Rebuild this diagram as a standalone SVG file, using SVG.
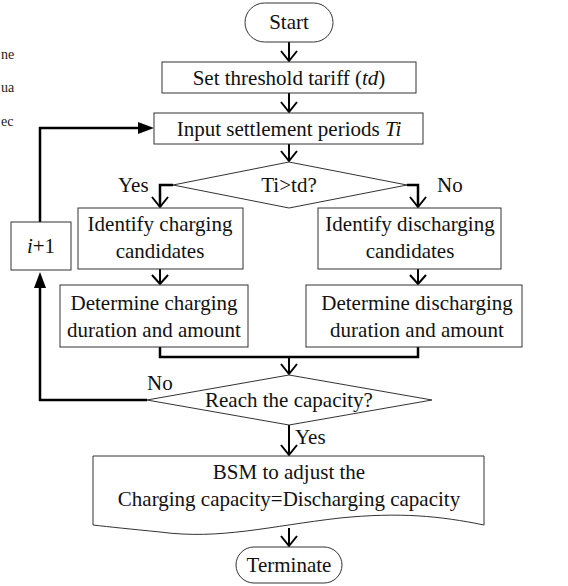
<svg xmlns="http://www.w3.org/2000/svg" width="568" height="586" viewBox="0 0 568 586" font-family="'Liberation Serif', 'Times New Roman', 'DejaVu Serif', serif">
<style>
.box{fill:#fff;stroke:#333;stroke-width:1}
text{font-family:'Liberation Serif','Times New Roman','DejaVu Serif',serif}
.t{font-size:21px;fill:#111;text-anchor:middle}
.l{font-size:21px;fill:#111}
.c{fill:none;stroke:#000;stroke-width:2.5}
.cd{fill:none;stroke:#000;stroke-width:2}
.side{font-size:14px;fill:#222}
</style>
<rect width="568" height="586" fill="#fff"/>
<g id="side-text">
<text class="side" x="1" y="59">ne</text>
<text class="side" x="1" y="92">ua</text>
<text class="side" x="1" y="126">ec</text>
</g>
<g id="connectors">
<path class="cd" d="M289,42 V61"/>
<path class="cd" d="M281,51 L289,61 L297,51"/>
<path class="cd" d="M289,93 V112"/>
<path class="cd" d="M281,102 L289,112 L297,102"/>
<path class="cd" d="M289,144 V161"/>
<path class="cd" d="M281,151 L289,161 L297,151"/>
<path class="c" d="M173,185 H160 V207"/>
<path class="cd" d="M152,197 L160,207 L168,197"/>
<path class="c" d="M407,185 H418 V207"/>
<path class="cd" d="M410,197 L418,207 L426,197"/>
<path class="cd" d="M160,269 V284"/>
<path class="cd" d="M152,275 L160,284 L168,275"/>
<path class="cd" d="M418,269 V284"/>
<path class="cd" d="M410,275 L418,284 L426,275"/>
<path class="c" d="M160,347 V357 H418 V347"/>
<path class="cd" d="M289,357 V374"/>
<path class="cd" d="M281,364 L289,374 L297,364"/>
<path class="c" d="M147,400 H40 V287"/>
<polygon points="40,272 34,288 46,288" fill="#000"/>
<path class="c" d="M40,222 V128 H140"/>
<polygon points="154,128 138,122 138,134" fill="#000"/>
<path class="cd" d="M289,425 V455"/>
<path class="cd" d="M281,445 L289,455 L297,445"/>
<path class="cd" d="M289,528 V546"/>
<path class="cd" d="M281,536 L289,546 L297,536"/>
</g>
<g id="start">
<rect class="box" x="245" y="3" width="88" height="39" rx="19.5"/>
<text class="t" x="289" y="29">Start</text>
</g>
<g id="set-threshold">
<rect class="box" x="162" y="62" width="254" height="31"/>
<text class="t" x="289" y="85">Set threshold tariff (<tspan font-style="italic">td</tspan>)</text>
</g>
<g id="input-periods">
<rect class="box" x="154" y="113" width="269" height="31"/>
<text class="t" x="289" y="136">Input settlement periods  <tspan font-style="italic">Ti</tspan></text>
</g>
<g id="decision-ti">
<polygon class="box" points="289,162 407,185 289,208 173,185"/>
<text class="t" x="289" y="192">Ti&gt;td?</text>
<text class="l" x="118" y="192">Yes</text>
<text class="l" x="437" y="192">No</text>
</g>
<g id="identify-charging">
<rect class="box" x="78" y="208" width="165" height="61"/>
<text class="t" x="160" y="231">Identify charging</text>
<text class="t" x="160" y="258">candidates</text>
</g>
<g id="identify-discharging">
<rect class="box" x="318" y="208" width="183" height="61"/>
<text class="t" x="410" y="231">Identify discharging</text>
<text class="t" x="410" y="258">candidates</text>
</g>
<g id="i-plus-1">
<rect class="box" x="11" y="222" width="60" height="48"/>
<text class="t" x="41" y="253"><tspan font-style="italic">i</tspan>+1</text>
</g>
<g id="determine-charging">
<rect class="box" x="60" y="285" width="188" height="62"/>
<text class="t" x="154" y="310">Determine charging</text>
<text class="t" x="154" y="337">duration and amount</text>
</g>
<g id="determine-discharging">
<rect class="box" x="306" y="285" width="216" height="62"/>
<text class="t" x="417" y="310">Determine discharging</text>
<text class="t" x="417" y="337">duration and amount</text>
</g>
<g id="decision-capacity">
<polygon class="box" points="289,375 432,400 289,425 147,400"/>
<text class="t" x="289" y="407">Reach the capacity?</text>
<text class="l" x="147" y="390">No</text>
<text class="l" x="295" y="444">Yes</text>
</g>
<g id="bsm">
<path class="box" d="M93,456 H484 V525 C440,516 400,512 340,518 C270,526 220,540 160,532 C130,529 110,527 93,525 Z"/>
<text class="t" x="289" y="479">BSM to adjust the</text>
<text class="t" x="289" y="506">Charging capacity=Discharging capacity</text>
</g>
<g id="terminate">
<rect class="box" x="236" y="547" width="106" height="36" rx="18"/>
<text class="t" x="289" y="572">Terminate</text>
</g>
</svg>
